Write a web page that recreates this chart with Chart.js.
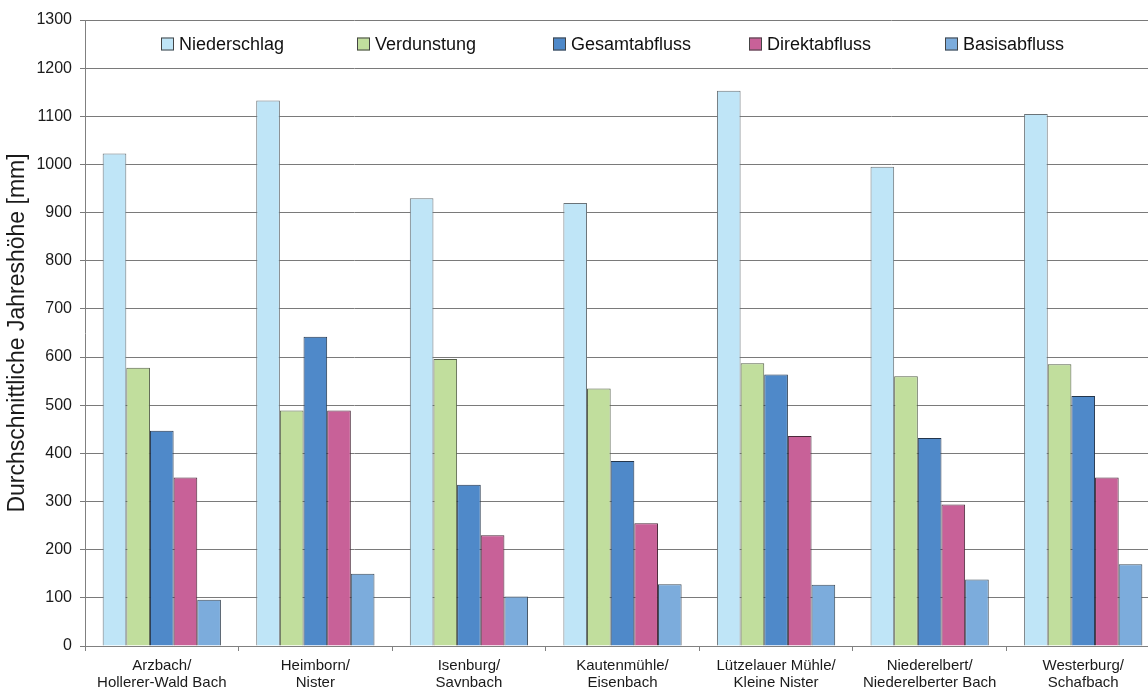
<!DOCTYPE html>
<html lang="de">
<head>
<meta charset="utf-8">
<title>Durchschnittliche Jahreshöhe</title>
<script src="https://cdn.jsdelivr.net/npm/chart.js@4"></script>
<style>
  html, body { margin: 0; padding: 0; background: #fff; overflow: hidden; }
  #wrap { width: 1160px; height: 687px; }
</style>
</head>
<body>
<div id="wrap"><canvas id="grafico" width="1160" height="687"></canvas></div>
<script>
// Pegel / Gewässer (zweizeilig beschriftet)
const pegel = [
  ['Arzbach/', 'Hollerer-Wald Bach'],
  ['Heimborn/', 'Nister'],
  ['Isenburg/', 'Saynbach'],
  ['Kautenmühle/', 'Eisenbach'],
  ['Lützelauer Mühle/', 'Kleine Nister'],
  ['Niederelbert/', 'Niederelberter Bach'],
  ['Westerburg/', 'Schafbach']
];

// mittlere Jahreshöhen in mm
const niederschlag = [1023, 1133, 930, 920, 1153, 995, 1105];
const verdunstung  = [578, 489, 596, 535, 587, 560, 585];
const gesamtabfluss = [447, 642, 335, 384, 564, 432, 519];
const direktabfluss = [350, 489, 230, 255, 436, 294, 350];
const basisabfluss  = [96, 150, 103, 128, 127, 138, 170];

const yTicks = [0, 100, 200, 300, 400, 500, 600, 700, 800, 900, 1000, 1100, 1200, 1300];

const serien = [
  { label: 'Niederschlag',  data: niederschlag,  farbe: '#bfe5f7', rand: '#6b7378' },
  { label: 'Verdunstung',   data: verdunstung,   farbe: '#c1de9d', rand: '#56604a' },
  { label: 'Gesamtabfluss', data: gesamtabfluss, farbe: '#4f89c9', rand: '#24364c' },
  { label: 'Direktabfluss', data: direktabfluss, farbe: '#c86198', rand: '#4a2a3a' },
  { label: 'Basisabfluss',  data: basisabfluss,  farbe: '#7cacdc', rand: '#3e4c5a' }
];

const schrift = "'Liberation Sans', Arial, sans-serif";

// Legende im Diagrammbereich, gleichmäßig verteilt
const legendePlugin = {
  id: 'legendeOben',
  afterDraw(chart) {
    const ctx = chart.ctx;
    const area = chart.chartArea;
    const y = area.top + 24;
    ctx.save();
    ctx.font = '18px ' + schrift;
    ctx.textBaseline = 'middle';
    chart.data.datasets.forEach((ds, i) => {
      const x = area.left + 76 + i * 196;
      ctx.fillStyle = ds.backgroundColor;
      ctx.fillRect(x, y - 6.5, 13, 13);
      ctx.strokeStyle = '#444';
      ctx.lineWidth = 1;
      ctx.strokeRect(x + 0.5, y - 6, 12, 12);
      ctx.fillStyle = '#111';
      ctx.fillText(ds.label, x + 18, y + 1);
    });
    ctx.restore();
  }
};

const ctx = document.getElementById('grafico').getContext('2d');

new Chart(ctx, {
  type: 'bar',
  data: {
    labels: pegel,
    datasets: serien.map(s => ({
      label: s.label,
      data: s.data,
      backgroundColor: s.farbe,
      borderColor: s.rand,
      borderWidth: 1,
      barPercentage: 1,
      categoryPercentage: 0.77
    }))
  },
  options: {
    responsive: false,
    animation: false,
    devicePixelRatio: 1,
    layout: { padding: { top: 20, right: 0, bottom: 0, left: 0 } },
    plugins: {
      legend: { display: false },
      tooltip: { enabled: false }
    },
    scales: {
      x: {
        afterFit: scale => { scale.height = 41; },
        grid: {
          offset: true,
          drawOnChartArea: false,
          drawTicks: true,
          tickLength: 5,
          color: '#808080'
        },
        border: { color: '#808080', width: 1 },
        ticks: {
          color: '#1a1a1a',
          font: { family: schrift, size: 15, lineHeight: 1.1 },
          padding: 7,
          maxRotation: 0,
          autoSkip: false
        }
      },
      y: {
        min: 0,
        max: 1300,
        afterFit: scale => { scale.width = 85; },
        afterBuildTicks: scale => { scale.ticks = yTicks.map(v => ({ value: v })); },
        grid: {
          color: '#7a7a7a',
          lineWidth: 1,
          drawTicks: true,
          tickLength: 5
        },
        border: { color: '#808080', width: 1 },
        ticks: {
          color: '#1a1a1a',
          font: { family: schrift, size: 16 },
          padding: 8,
          callback: v => String(v)
        },
        title: {
          display: true,
          text: 'Durchschnittliche Jahreshöhe [mm]',
          color: '#1a1a1a',
          font: { family: schrift, size: 23 },
          padding: { top: 4, bottom: 0 }
        }
      }
    }
  },
  plugins: [legendePlugin]
});
</script>
</body>
</html>
